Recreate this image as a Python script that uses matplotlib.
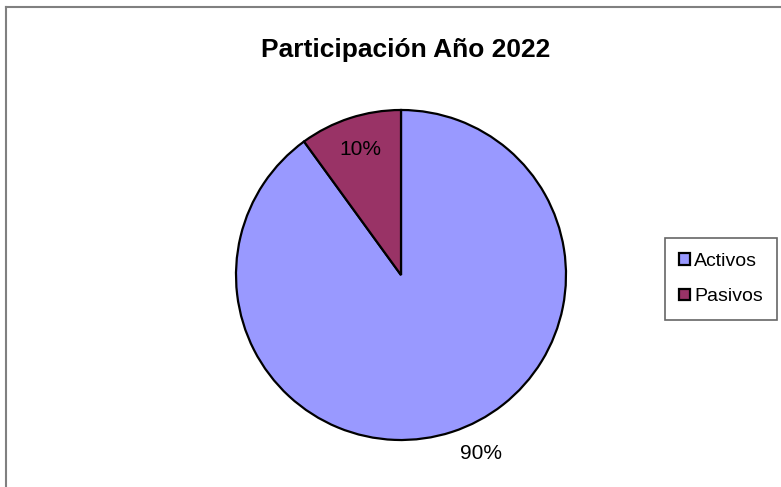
import matplotlib
matplotlib.use("Agg")
import matplotlib.pyplot as plt
from matplotlib.lines import Line2D
from matplotlib.patches import Patch

categories = ["Activos", "Pasivos"]
values = [90, 10]
colors = ["#9999FF", "#993366"]
title = "Participación Año 2022"

plt.rcParams['font.family'] = ['Liberation Sans', 'DejaVu Sans']

W, H = 781, 487
fig = plt.figure(figsize=(W / 100, H / 100), dpi=100)

# border (top and left visible)
fig.add_artist(Line2D([6 / W, 1], [1 - 7 / H, 1 - 7 / H], color="#808080", lw=1.5, transform=fig.transFigure))
fig.add_artist(Line2D([6 / W, 6 / W], [0, 1 - 7 / H], color="#808080", lw=1.5, transform=fig.transFigure))

cx, cy, r = 401, 275, 165
pad = 5
ax = fig.add_axes([(cx - r - pad) / W, (H - cy - r - pad) / H, (2 * r + 2 * pad) / W, (2 * r + 2 * pad) / H])

wedges, texts, autotexts = ax.pie(values, colors=colors, startangle=90, counterclock=False,
                                  radius=1, autopct='%1.0f%%', pctdistance=0.8,
                                  wedgeprops=dict(edgecolor='black', linewidth=1.6),
                                  textprops=dict(fontsize=15, color='black'))
ax.set_xlim(-1 - pad / r, 1 + pad / r)
ax.set_ylim(-1 - pad / r, 1 + pad / r)
ax.set_aspect('equal')
ax.axis('off')
autotexts[0].set_position((0.485, -1.08))
for t in autotexts:
    t.set_clip_on(False)

fig.text(406 / W, 1 - 50 / H, title, ha='center', va='center', fontsize=19, fontweight='bold')

handles = [Patch(facecolor=c, edgecolor='black', linewidth=1.6) for c in colors]
leg = fig.legend(handles, categories, loc='center', bbox_to_anchor=(721 / W, 1 - 279 / H),
                 frameon=True, fancybox=False, edgecolor='#404040', fontsize=14,
                 handlelength=0.55, handleheight=0.55, handletextpad=0.2, labelspacing=0.95,
                 borderpad=0.75, borderaxespad=0)
leg.get_frame().set_linewidth(1.2)

fig.savefig("out.png", dpi=100)
